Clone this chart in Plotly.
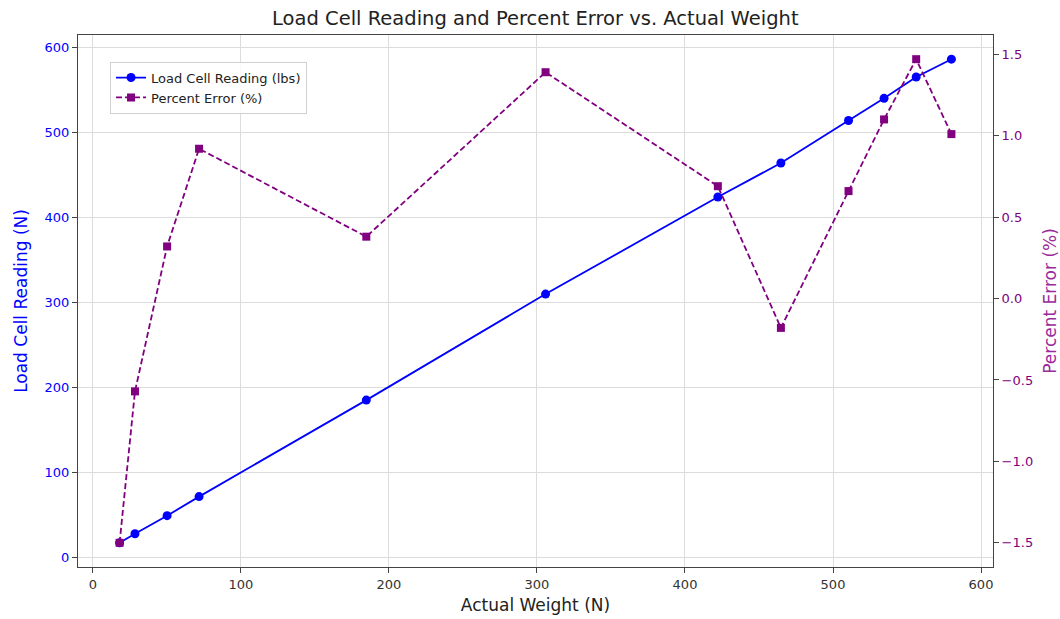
import plotly.graph_objects as go

actual_weight = [18.0, 28.4, 50.1, 71.7, 184.7, 305.8, 422.2, 464.8, 510.5, 534.5, 556.2, 580.0]
load_cell_reading = [17.7, 28.4, 49.6, 72.0, 185.4, 310.0, 424.0, 464.0, 514.0, 540.0, 565.0, 586.0]
percent_error = [-1.50, -0.57, 0.32, 0.92, 0.38, 1.39, 0.69, -0.18, 0.66, 1.10, 1.47, 1.01]

x_ticks = [0, 100, 200, 300, 400, 500, 600]
y_ticks = [0, 100, 200, 300, 400, 500, 600]
y2_ticks = [-1.5, -1.0, -0.5, 0.0, 0.5, 1.0, 1.5]
y2_ticktext = ["\u22121.5", "\u22121.0", "\u22120.5", "0.0", "0.5", "1.0", "1.5"]


def padded(vals, frac=0.05):
    lo, hi = min(vals), max(vals)
    d = (hi - lo) * frac
    return [lo - d, hi + d]


FONT = "DejaVu Sans"
fig = go.Figure()
fig.add_trace(go.Scatter(
    x=actual_weight, y=load_cell_reading, name="Load Cell Reading (lbs)",
    mode="lines+markers", line=dict(color="blue", width=1.8),
    marker=dict(symbol="circle", size=9, color="blue"), yaxis="y"))
fig.add_trace(go.Scatter(
    x=actual_weight, y=percent_error, name="Percent Error (%)",
    mode="lines+markers", line=dict(color="purple", width=1.8, dash="6px,3px"),
    marker=dict(symbol="square", size=8, color="purple"), yaxis="y2"))

axis_common = dict(showline=True, linecolor="#444", linewidth=1, ticks="outside",
                   ticklen=5, tickcolor="#444", zeroline=False, automargin=False)

fig.update_layout(
    width=1060, height=619,
    margin=dict(l=78, r=67, t=35, b=52),
    paper_bgcolor="white", plot_bgcolor="white",
    font=dict(family=FONT, size=14, color="#222"),
    title=dict(text="Load Cell Reading and Percent Error vs. Actual Weight",
               x=0.505, xanchor="center", y=0.97, yanchor="middle",
               font=dict(size=19.5, color="#222")),
    xaxis=dict(range=padded(actual_weight), tickvals=x_ticks, mirror=True,
               showgrid=True, gridcolor="#dcdcdc", gridwidth=1,
               tickfont=dict(size=13, color="#333"),
               title=dict(text="Actual Weight (N)", font=dict(size=17, color="#222"), standoff=8),
               **axis_common),
    yaxis=dict(range=padded(load_cell_reading), tickvals=y_ticks, mirror=True,
               showgrid=True, gridcolor="#dcdcdc", gridwidth=1,
               tickfont=dict(size=13, color="blue"),
               title=dict(text="Load Cell Reading (N)", font=dict(size=17, color="blue"), standoff=12),
               **axis_common),
    yaxis2=dict(range=padded(percent_error), tickvals=y2_ticks, ticktext=y2_ticktext,
                overlaying="y", side="right", showgrid=False,
                tickfont=dict(size=13, color="purple"),
                title=dict(text="Percent Error (%)", font=dict(size=17, color="#9a2a9a"), standoff=16),
                **axis_common),
    legend=dict(x=0.035, y=0.95, xanchor="left", yanchor="top",
                bgcolor="rgba(255,255,255,0.85)", bordercolor="#d0d0d0", borderwidth=1,
                font=dict(size=13, color="#222")),
    showlegend=True,
)

fig.write_html("out.html")
